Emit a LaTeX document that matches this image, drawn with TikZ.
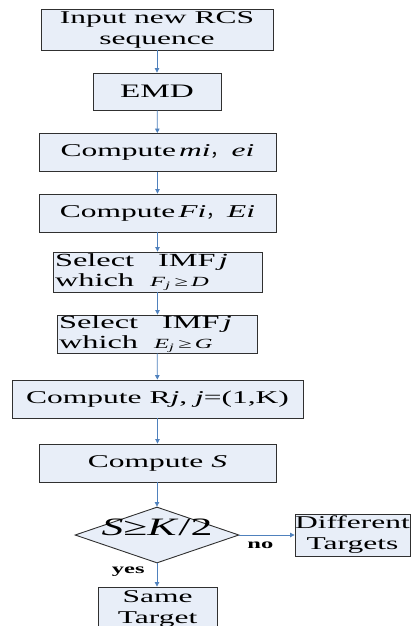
\documentclass[tikz,border=0pt]{standalone}
\usepackage{fontspec}
\setmainfont{Liberation Serif}[FakeStretch=1.75]
\newfontfamily\cjk{Noto Sans CJK SC}
\usetikzlibrary{shapes.geometric,arrows.meta}
\definecolor{boxfill}{HTML}{E8EEF8}
\definecolor{boxline}{HTML}{303030}
\definecolor{arrowblue}{HTML}{4F81BD}
\tikzset{
  flowbox/.style={draw=boxline, fill=boxfill, line width=0.9pt, inner sep=0pt,
    font=\fontsize{18}{21}\selectfont, align=center},
  decision/.style={diamond, draw=boxline, fill=boxfill, line width=0.9pt, inner sep=0pt},
  arr/.style={draw=arrowblue, line width=0.8pt, -{Triangle[length=4.5pt,width=4.5pt]}},
  answer/.style={font=\fontsize{14}{14}\selectfont\bfseries, inner sep=0pt}
}
\begin{document}
\begin{tikzpicture}[x=1pt,y=-1pt]
\useasboundingbox (0,0) rectangle (413,626);
\clip (0,0) rectangle (413,626);
\node[flowbox, minimum width=232pt, minimum height=41pt] (b1) at (157,29.5) {Input new RCS\\sequence};
\node[flowbox, minimum width=128pt, minimum height=37pt, font=\fontsize{19}{21}\selectfont] (emd) at (157,91.5) {EMD};
\node[flowbox, minimum width=237pt, minimum height=38pt] (mi) at (157.5,152.5) {Compute\,\textit{mi}{\cjk ，}\,\textit{ei}};
\node[flowbox, minimum width=237pt, minimum height=38pt] (fi) at (157.5,213) {Compute\,\textit{Fi}{\cjk ，}\,\textit{Ei}};
\node[flowbox, minimum width=209pt, minimum height=40pt, align=left, text width=205pt, font=\fontsize{18.5}{20}\selectfont] (s1) at (157.5,272)
  {Select\hspace{24pt}IMF\,\textit{j}\\which\hspace{16pt}{\fontsize{14}{16}\selectfont\textit{F}\textsubscript{\textit{j}}\hspace{4pt}≥\hspace{3pt}\textit{D}}};
\node[flowbox, minimum width=200pt, minimum height=38pt, align=left, text width=196pt, font=\fontsize{18.5}{20}\selectfont] (s2) at (157,334)
  {Select\hspace{24pt}IMF\,\textit{j}\\which\hspace{16pt}{\fontsize{14}{16}\selectfont\textit{E}\textsubscript{\textit{j}}\hspace{4pt}≥\hspace{3pt}\textit{G}}};
\node[flowbox, minimum width=291pt, minimum height=38pt] (rj) at (157.5,399) {Compute R\textit{j}, \textit{j}=(1,K)};
\node[flowbox, minimum width=237pt, minimum height=38pt] (cs) at (157.5,463) {Compute \textit{S}};
\node[decision, minimum width=164pt, minimum height=56pt] (d) at (157,535)
  {\smash{\makebox[0pt]{\fontsize{25}{25}\selectfont\textit{S}≥\textit{K}/2}}};
\node[flowbox, minimum width=115pt, minimum height=42pt] (diff) at (352.5,535) {Different\\Targets};
\node[flowbox, minimum width=119pt, minimum height=44pt] (same) at (157.5,609) {Same\\Target};
\draw[arr] (b1) -- (emd);
\draw[arr] (emd) -- (mi);
\draw[arr] (mi) -- (fi);
\draw[arr] (fi.south -| s1.north) -- (s1.north);
\draw[arr] (s1.south -| fi.south) -- (s2.north -| fi.south);
\draw[arr] (s2) -- (rj);
\draw[arr] (rj) -- (cs);
\draw[arr] (cs.south -| d.north) -- (d.north);
\draw[arr] (d.east) -- node[answer, pos=0.38, below=6pt] {no} (diff.west);
\draw[arr] (d.south) -- node[answer, pos=0.35, left=12pt] {yes} (same.north -| d.south);
\end{tikzpicture}
\end{document}
